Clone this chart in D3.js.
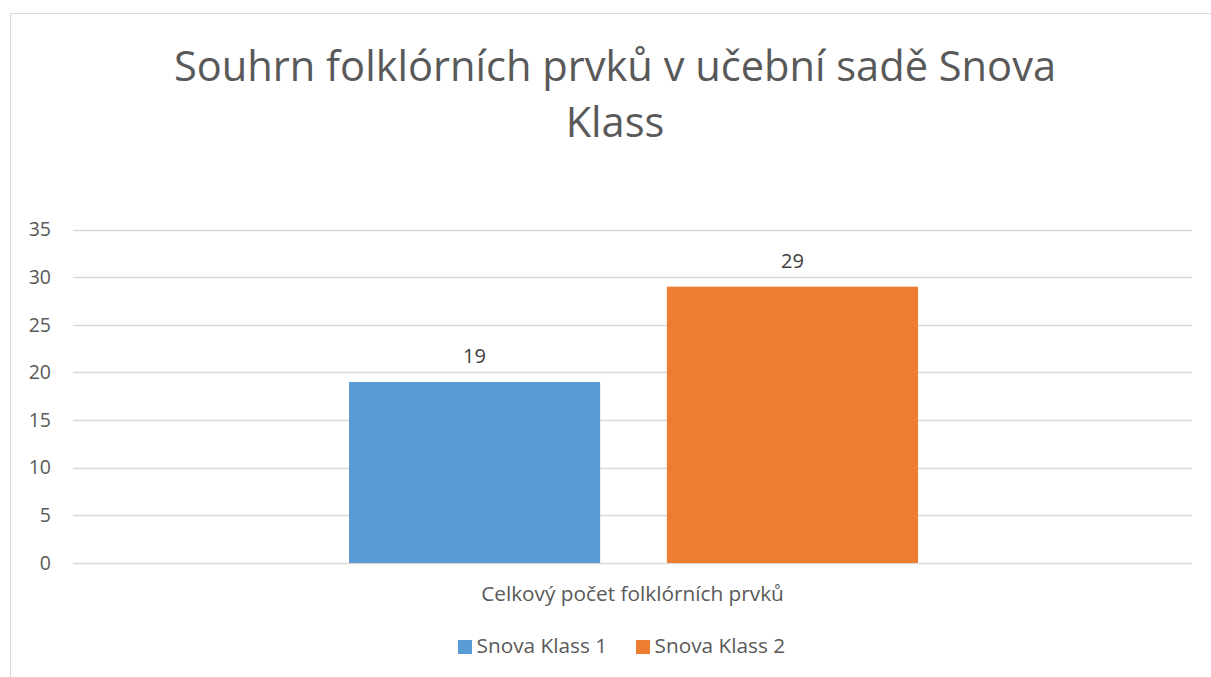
<!DOCTYPE html>
<html><head><meta charset="utf-8">
<script src="https://cdn.jsdelivr.net/npm/d3@7"></script>
<style>body{margin:0;background:#fff}svg{display:block}text{font-family:"Open Sans","Noto Sans",sans-serif;fill:#595959}</style>
</head><body>
<script>
const titleLines = ["Souhrn folklórních prvků v učební sadě Snova", "Klass"];
const categories = ["Celkový počet folklórních prvků"];
const seriesNames = ["Snova Klass 1", "Snova Klass 2"];
const seriesValues = [19, 29];
const colors = ["#5b9bd5", "#ed7d31"];
const yTicks = [0, 5, 10, 15, 20, 25, 30, 35];

(function () {
const W = 1211, H = 677;
const svg = d3.select("body").append("svg").attr("width", W).attr("height", H);
svg.append("rect").attr("x", 10.5).attr("y", 13.5).attr("width", 1220).attr("height", 700)
  .attr("fill", "#fff").attr("stroke", "#d9d9d9");

const pL = 73, pR = 1192, pT = 229.5, pB = 563;
const y = d3.scaleLinear().domain([0, 35]).range([pB, pT]);
const x0 = d3.scaleBand().domain(categories).range([pL, pR]);
const x1 = d3.scaleBand().domain(seriesNames).range([349 - pL, 918 - pL]).paddingInner(0.21);

// title
const t = svg.append("text").attr("text-anchor", "middle").attr("font-size", 41.6);
titleLines.forEach((l, i) => t.append("tspan").attr("x", 615).attr("y", 81 + i * 55.5).text(l));

// gridlines
svg.append("g").selectAll("line").data(yTicks).join("line")
  .attr("x1", pL).attr("x2", pR).attr("y1", d => Math.round(y(d)) + 0.5).attr("y2", d => Math.round(y(d)) + 0.5)
  .attr("stroke", "#d9d9d9").attr("stroke-width", 1.3);

// y axis labels
const ax = d3.axisLeft(y).tickValues(yTicks).tickSize(0).tickPadding(0);
const g = svg.append("g").attr("transform", `translate(51,0)`).call(ax);
g.select(".domain").remove();
g.selectAll("text").attr("font-size", 19.5).attr("fill", "#595959").style("font-family", '"Open Sans",sans-serif');

// bars
const cg = svg.append("g").selectAll("g").data(categories).join("g")
  .attr("transform", d => `translate(${x0(d)},0)`);
cg.selectAll("rect").data(seriesValues.map((v, i) => ({k: seriesNames[i], v, c: colors[i]}))).join("rect")
  .attr("x", d => x1(d.k)).attr("width", x1.bandwidth())
  .attr("y", d => y(d.v)).attr("height", d => y(0) - y(d.v)).attr("fill", d => d.c);
cg.selectAll("text.lbl").data(seriesValues.map((v, i) => ({k: seriesNames[i], v}))).join("text")
  .attr("class", "lbl").attr("text-anchor", "middle").attr("font-size", 20)
  .style("fill", "#404040")
  .attr("x", d => x1(d.k) + x1.bandwidth() / 2).attr("y", d => y(d.v) - 18.5).text(d => d.v);

// category label
svg.append("g").selectAll("text").data(categories).join("text")
  .attr("text-anchor", "middle").attr("font-size", 20.8)
  .attr("x", d => x0(d) + x0.bandwidth() / 2).attr("y", 601).text(d => d);

// legend
const legX = [458, 636];
const lg = svg.append("g").selectAll("g").data(seriesNames).join("g")
  .attr("transform", (d, i) => `translate(${legX[i]},640)`);
lg.append("rect").attr("width", 14).attr("height", 14).attr("fill", (d, i) => colors[i]);
lg.append("text").attr("x", 18.5).attr("y", 13).attr("font-size", 20.8).text(d => d);
})();
</script>
</body></html>
